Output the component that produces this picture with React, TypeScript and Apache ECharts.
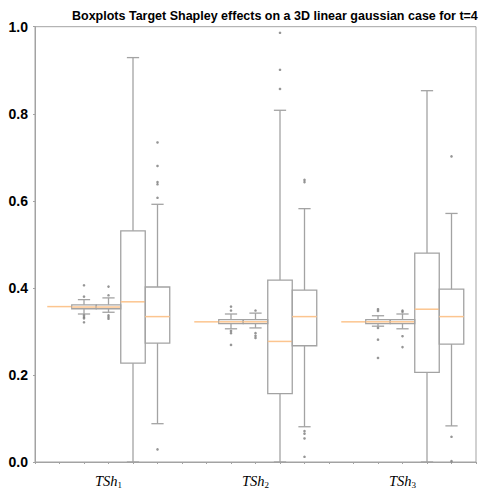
import React, { useEffect, useRef } from "react";
import * as echarts from "echarts";

// 19 slots on the x axis (0..18); boxes at 1-5, 7-11, 13-17
const slotCount = 19;
const groupLabels = ["1", "2", "3"];
const groupLabelSlots = [3, 9, 15];

const boxPositions = [1, 2, 3, 4, 5, 7, 8, 9, 10, 11, 13, 14, 15, 16, 17];
const whiskerLow = [0.357, 0.340, 0.344, 0.0, 0.088, 0.322, 0.306, 0.308, 0.0, 0.081, 0.322, 0.312, 0.306, 0.0, 0.083];
const quartile1 = [0.357, 0.352, 0.352, 0.227, 0.273, 0.322, 0.318, 0.318, 0.157, 0.267, 0.322, 0.318, 0.318, 0.206, 0.271];
const medians = [0.357, 0.356, 0.356, 0.368, 0.334, 0.322, 0.322, 0.322, 0.277, 0.334, 0.322, 0.322, 0.322, 0.351, 0.334];
const quartile3 = [0.357, 0.361, 0.361, 0.531, 0.402, 0.322, 0.327, 0.327, 0.418, 0.395, 0.322, 0.327, 0.327, 0.480, 0.397];
const whiskerHigh = [0.357, 0.373, 0.377, 0.929, 0.592, 0.322, 0.340, 0.342, 0.808, 0.582, 0.322, 0.336, 0.340, 0.853, 0.571];

const outliers: [number, number][] = [
  [2, 0.406], [2, 0.380], [2, 0.337], [2, 0.333], [2, 0.330], [2, 0.321],
  [3, 0.403], [3, 0.383], [3, 0.337], [3, 0.333], [3, 0.329],
  [5, 0.734], [5, 0.680], [5, 0.643], [5, 0.638], [5, 0.607], [5, 0.029],
  [8, 0.357], [8, 0.348], [8, 0.301], [8, 0.296], [8, 0.269],
  [9, 0.348], [9, 0.296], [9, 0.290], [9, 0.285],
  [10, 0.986], [10, 0.901], [10, 0.857],
  [11, 0.648], [11, 0.643], [11, 0.071], [11, 0.065], [11, 0.054], [11, 0.012],
  [14, 0.351], [14, 0.347], [14, 0.308], [14, 0.281], [14, 0.239],
  [15, 0.348], [15, 0.345], [15, 0.289], [15, 0.264],
  [17, 0.702], [17, 0.058], [17, 0.002],
];

const yTicks = { min: 0, max: 1, interval: 0.2 };

export default function App() {
  const ref = useRef<HTMLDivElement>(null);
  useEffect(() => {
    if (!ref.current) return;
    const chart = echarts.init(ref.current, null, { renderer: "svg" });
    const categories = Array.from({ length: slotCount }, (_, i) => "s" + i);
    const boxData = boxPositions.map((p, i) => [p, whiskerLow[i], quartile1[i], medians[i], quartile3[i], whiskerHigh[i]]);
    const grey = "#a3a3a3";
    const orange = "#fcc58f";
    chart.setOption({
      animation: false,
      backgroundColor: "#fff",
      title: {
        text: "Boxplots Target Shapley effects on a 3D linear gaussian case for t=4",
        left: 67,
        top: 4,
        textStyle: { fontFamily: "Liberation Sans", fontWeight: "bold", fontSize: 12.5, color: "#000" },
      },
      grid: { left: 35, right: -4, top: 26.7, bottom: 25.5, show: true, borderColor: grey, borderWidth: 1, backgroundColor: "transparent" },
      xAxis: {
        type: "category",
        data: categories,
        boundaryGap: false,
        axisLine: { lineStyle: { color: grey, width: 1 } },
        axisTick: { show: true, interval: 0, length: 2, lineStyle: { color: grey } },
        splitLine: { show: false },
        axisLabel: {
          interval: 0,
          margin: 11,
          formatter: (_v: string, idx: number) => {
            const g = groupLabelSlots.indexOf(idx);
            return g >= 0 ? `{t|TSh}{s|${groupLabels[g]}}` : "";
          },
          rich: {
            t: { fontFamily: "Liberation Serif", fontStyle: "italic", fontSize: 14.5, color: "#000", verticalAlign: "top" },
            s: { fontFamily: "Liberation Serif", fontSize: 9, color: "#000", verticalAlign: "top", padding: [7, 0, 0, 0] },
          },
        },
      },
      yAxis: {
        type: "value",
        min: yTicks.min,
        max: yTicks.max,
        interval: yTicks.interval,
        axisLine: { show: true, lineStyle: { color: grey, width: 1 } },
        axisTick: { show: true, length: 2, lineStyle: { color: grey } },
        splitLine: { show: false },
        axisLabel: {
          margin: 7,
          formatter: (v: number) => v.toFixed(1),
          fontFamily: "Liberation Sans",
          fontWeight: "bold",
          fontSize: 14,
          color: "#000",
        },
      },
      series: [
        {
          type: "custom",
          data: boxData,
          encode: { x: 0, y: [1, 2, 3, 4, 5] },
          renderItem: (_params: any, api: any) => {
            const x = api.value(0);
            const pLo = api.coord([x, api.value(1)]);
            const pQ1 = api.coord([x, api.value(2)]);
            const pMd = api.coord([x, api.value(3)]);
            const pQ3 = api.coord([x, api.value(4)]);
            const pHi = api.coord([x, api.value(5)]);
            const bw = api.coord([x + 1, 0])[0] - api.coord([x, 0])[0];
            const cx = pMd[0];
            const half = bw / 2;
            const capHalf = bw / 4;
            const ls = { stroke: grey, lineWidth: 1.3, fill: "none" };
            const children: any[] = [];
            if (api.value(4) > api.value(2)) {
              children.push(
                { type: "line", shape: { x1: cx, y1: pLo[1], x2: cx, y2: pQ1[1] }, style: ls },
                { type: "line", shape: { x1: cx, y1: pQ3[1], x2: cx, y2: pHi[1] }, style: ls },
                { type: "line", shape: { x1: cx - capHalf, y1: pLo[1], x2: cx + capHalf, y2: pLo[1] }, style: ls },
                { type: "line", shape: { x1: cx - capHalf, y1: pHi[1], x2: cx + capHalf, y2: pHi[1] }, style: ls },
                { type: "rect", shape: { x: cx - half, y: pQ3[1], width: bw, height: pQ1[1] - pQ3[1] }, style: ls }
              );
            }
            children.push({
              type: "line",
              shape: { x1: cx - half, y1: pMd[1], x2: cx + half, y2: pMd[1] },
              style: { stroke: orange, lineWidth: 1.5 },
            });
            return { type: "group", children };
          },
          z: 2,
        },
        {
          type: "scatter",
          data: outliers,
          symbol: "circle",
          symbolSize: 2.6,
          itemStyle: { color: "#7a7a7a" },
          z: 3,
        },
      ],
    });
    return () => chart.dispose();
  }, []);
  return <div ref={ref} style={{ width: 479, height: 489, position: "absolute", left: 0, top: 0 }} />;
}
